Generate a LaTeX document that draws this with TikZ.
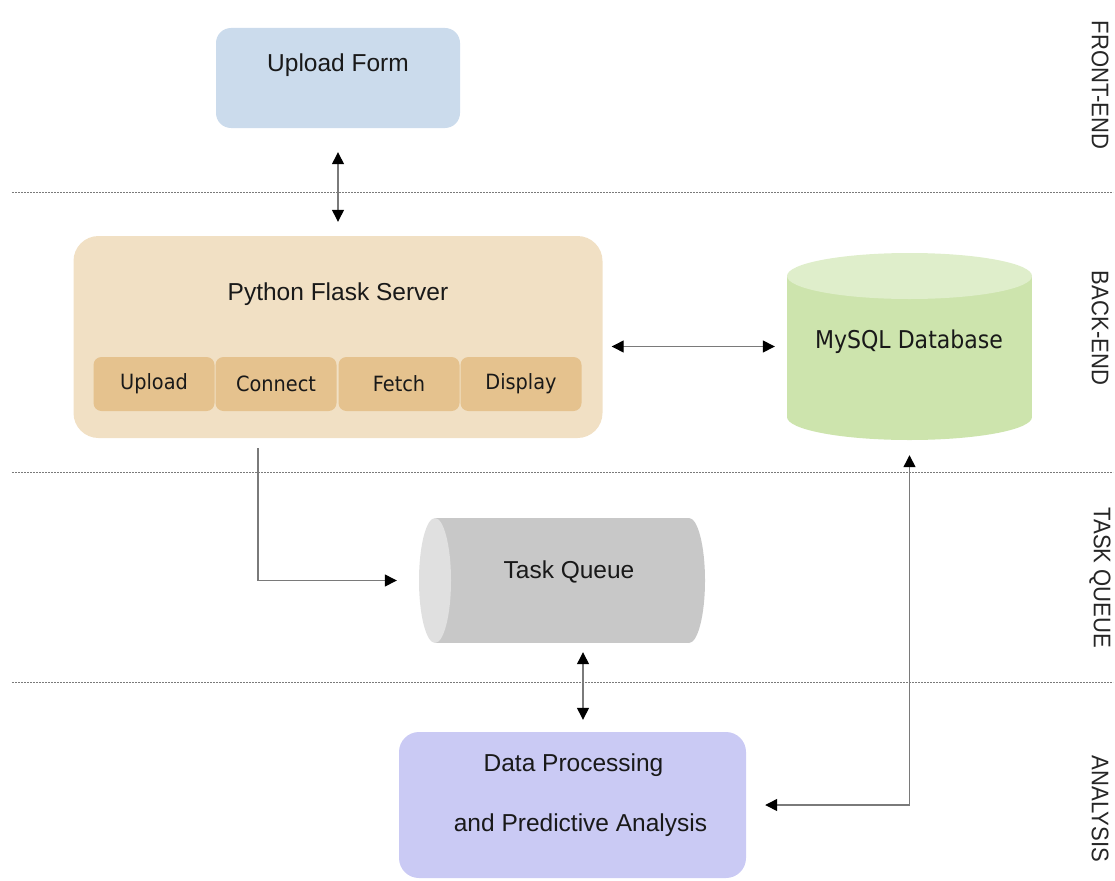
\documentclass[tikz,border=0pt]{standalone}
\usepackage{fontspec}
\usepackage{graphicx}
\setmainfont{Liberation Sans}
\newfontfamily\dvs[FakeStretch=0.92]{DejaVu Sans}
\newfontfamily\dvsc[FakeStretch=0.9]{DejaVu Sans}
\usetikzlibrary{arrows.meta,calc}
\definecolor{uplfill}{HTML}{CBDBEC}
\definecolor{flaskfill}{HTML}{F1E0C4}
\definecolor{subfill}{HTML}{E5C28E}
\definecolor{dbbody}{HTML}{CDE4AD}
\definecolor{dbtop}{HTML}{DFEECB}
\definecolor{qbody}{HTML}{C8C8C8}
\definecolor{qend}{HTML}{E0E0E0}
\definecolor{anfill}{HTML}{CACAF4}
\definecolor{linegray}{HTML}{7A7A7A}
\definecolor{sepgray}{HTML}{7A7A7A}
\tikzset{
  box/.style={rounded corners=#1, draw=none, inner sep=0pt},
  subbox/.style={rounded corners=8pt, fill=subfill, draw=none, inner sep=0pt,
    minimum width=121pt, minimum height=54pt, font=\dvs\fontsize{21}{25}\selectfont, text=black!90},
  maintext/.style={font=\fontsize{24.5}{29}\selectfont, text=black!90, inner sep=0pt},
  tipA/.tip={Triangle[length=12pt,width=12pt,color=black]},
  conn/.style={draw=linegray, line width=1.3pt, tipA-tipA},
  connone/.style={draw=linegray, line width=1.3pt, -tipA},
  sepline/.style={draw=sepgray, line width=1pt, dash pattern=on 2pt off 1pt},
  lane/.style={rotate=-90, text=black!85, inner sep=0pt, font=\fontsize{24}{24}\selectfont},
  area/.style={draw=none, inner sep=0pt}
}
\begin{document}
\begin{tikzpicture}[x=1pt,y=-1pt]
\useasboundingbox (0,0) rectangle (1115,880);

% separators
\coordinate (s1a) at (12,192); \coordinate (s1b) at (1113,192);
\coordinate (s2a) at (12,472); \coordinate (s2b) at (1113,472);
\coordinate (s3a) at (12,682); \coordinate (s3b) at (1113,682);
\draw[sepline] (s1a) -- (s1b);
\draw[sepline] (s2a) -- (s2b);
\draw[sepline] (s3a) -- (s3b);

% front-end
\node[box=15pt, fill=uplfill, minimum width=244pt, minimum height=100pt] (upload) at (338,78) {};
\node[maintext] (uploadtxt) at (338,65) {Upload Form};

% flask server
\node[box=25pt, fill=flaskfill, minimum width=529pt, minimum height=202pt] (flask) at (338,337) {};
\node[maintext] (flasktxt) at (338,294) {Python Flask Server};
\node[subbox] (supload) at (154,384) {Upload};
\node[subbox] (sconnect) at (276,384) {Connect};
\node[subbox] (sfetch) at (399,384) {Fetch};
\node[subbox] (sdisplay) at (521,384) {Display};

% database cylinder
\node[area, minimum width=245pt, minimum height=187pt] (db) at (909.5,346.5) {};
\fill[dbbody] (787,276) rectangle (1032,417);
\fill[dbbody] (909.5,417) ellipse [x radius=122.5pt, y radius=23pt];
\fill[dbtop] (909.5,276) ellipse [x radius=122.5pt, y radius=23pt];
\node[inner sep=0pt, font=\dvsc\fontsize{24.5}{28}\selectfont, text=black!90] (dbtxt) at (909,342) {MySQL Database};

% task queue cylinder
\node[area, minimum width=286pt, minimum height=125pt] (queue) at (562,580.5) {};
\fill[qbody] (435,518) rectangle (689,643);
\fill[qbody] (689,580.5) ellipse [x radius=16pt, y radius=62.5pt];
\fill[qend] (435,580.5) ellipse [x radius=16pt, y radius=62.5pt];
\node[maintext] (queuetxt) at (569,572) {Task Queue};

% analysis
\node[box=20pt, fill=anfill, minimum width=347pt, minimum height=146pt] (analysis) at (572.5,805) {};
\node[maintext] (antxt1) at (573.5,765) {Data Processing};
\node[maintext] (antxt2) at (580.5,825) {and Predictive Analysis};

% lane labels
\node[lane] (lfront) at (1100,85) {\scalebox{0.92}[1]{FRONT-END}};
\node[lane] (lback) at (1100,328) {\scalebox{0.92}[1]{BACK-END}};
\node[lane] (lqueue) at (1100,578) {\scalebox{0.92}[1]{TASK QUEUE}};
\node[lane] (lanal) at (1100,809) {\scalebox{0.92}[1]{ANALYSIS}};

% connectors
\draw[conn, shorten <=24pt, shorten >=14pt] (upload.south) -- (flask.north);
\draw[conn, shorten <=9pt, shorten >=12pt] (flask.east |- db.west) -- (db.west);
\draw[connone, shorten <=10pt, shorten >=22pt] ($(flask.south)+(-80,0)$) |- (queue.west);
\draw[conn, shorten <=9pt, shorten >=12pt] ($(queue.south)+(21,0)$) -- ($(analysis.north)+(10.5,0)$);
\draw[conn, shorten <=15pt, shorten >=19pt] (db.south) |- (analysis.east);
\end{tikzpicture}
\end{document}
